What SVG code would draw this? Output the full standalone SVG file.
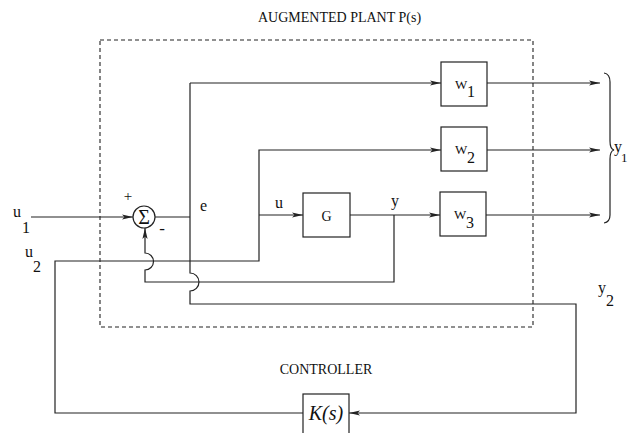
<svg xmlns="http://www.w3.org/2000/svg" width="628" height="433" viewBox="0 0 628 433">
<style>
.ln{fill:none;stroke:#222;stroke-width:1.2}
.bx{fill:#fff;stroke:#222;stroke-width:1.2}
.t{font-family:"Liberation Serif","Times New Roman",serif;fill:#111}
.lb{font-size:16px}
.dash{fill:none;stroke:#222;stroke-width:1.1;stroke-dasharray:4,3}
</style>
<defs>
<marker id="ar" markerUnits="userSpaceOnUse" viewBox="0 0 11 6" refX="11" refY="3" markerWidth="11" markerHeight="6" orient="auto">
<path d="M0,0.4 L11,3 L0,5.6 L2.5,3 z" fill="#222"/>
</marker>
</defs>
<rect x="0" y="0" width="628" height="433" fill="#fff"/>
<rect class="dash" x="100" y="40" width="433" height="287"/>
<text class="t" x="258" y="22" font-size="14">AUGMENTED PLANT P(s)</text>
<g id="connectors">
<path class="ln" d="M31,217 H133" marker-end="url(#ar)"/>
<path class="ln" d="M155,217 H190"/>
<path class="ln" d="M190,83 V273 A9,9 0 0 1 190,291 V304 H576 V413 H349" marker-end="url(#ar)"/>
<path class="ln" d="M190,83 H441" marker-end="url(#ar)"/>
<path class="ln" d="M303,413 H55 V261 H259 V150 H441" marker-end="url(#ar)"/>
<path class="ln" d="M259,215 H303" marker-end="url(#ar)"/>
<path class="ln" d="M350,215 H440" marker-end="url(#ar)"/>
<path class="ln" d="M394,215 V282 H145 V270 A8.5,8.5 0 0 0 145,253 V228" marker-end="url(#ar)"/>
<path class="ln" d="M487,83 H600" marker-end="url(#ar)"/>
<path class="ln" d="M487,150 H600" marker-end="url(#ar)"/>
<path class="ln" d="M486,215 H600" marker-end="url(#ar)"/>
</g>
<g id="sum">
<circle class="bx" cx="144" cy="217" r="11"/>
<text class="t" x="144" y="224" font-size="20" text-anchor="middle">Σ</text>
<text class="t" x="128" y="201" font-size="15" text-anchor="middle">+</text>
<text class="t" x="162" y="234" font-size="17" text-anchor="middle">-</text>
</g>
<g id="W1">
<rect class="bx" x="441" y="62" width="46" height="44"/>
<text class="t" x="455" y="89" font-size="13">W</text>
<text class="t" x="467" y="97" font-size="16">1</text>
</g>
<g id="W2">
<rect class="bx" x="441" y="127" width="46" height="44"/>
<text class="t" x="455" y="154" font-size="13">W</text>
<text class="t" x="467" y="163" font-size="16">2</text>
</g>
<g id="W3">
<rect class="bx" x="440" y="192" width="46" height="44"/>
<text class="t" x="454" y="219" font-size="13">W</text>
<text class="t" x="466" y="228" font-size="16">3</text>
</g>
<g id="G">
<rect class="bx" x="303" y="193" width="47" height="44"/>
<text class="t" x="326.5" y="221" font-size="14" text-anchor="middle">G</text>
</g>
<g id="K">
<rect class="bx" x="303" y="394" width="46" height="44"/>
<text class="t" x="326" y="420" font-size="20" font-style="italic" text-anchor="middle">K(s)</text>
<text class="t" x="326" y="374" font-size="14" text-anchor="middle">CONTROLLER</text>
</g>
<g id="brace">
<path class="ln" stroke-width="1.6" d="M604,73 Q610,74 610,82 V141 Q610,149 614,150 Q610,151 610,159 V215 Q610,222 604,223"/>
</g>
<g id="labels">
<text class="t lb" x="13" y="217">u</text>
<text class="t lb" x="22" y="233">1</text>
<text class="t lb" x="25" y="257">u</text>
<text class="t lb" x="33" y="272">2</text>
<text class="t lb" x="200" y="211">e</text>
<text class="t lb" x="275" y="208">u</text>
<text class="t lb" x="391" y="206">y</text>
<text class="t lb" x="614" y="152">y</text>
<text class="t" x="621" y="162" font-size="13">1</text>
<text class="t lb" x="598" y="293">y</text>
<text class="t lb" x="606" y="306">2</text>
</g>
</svg>
